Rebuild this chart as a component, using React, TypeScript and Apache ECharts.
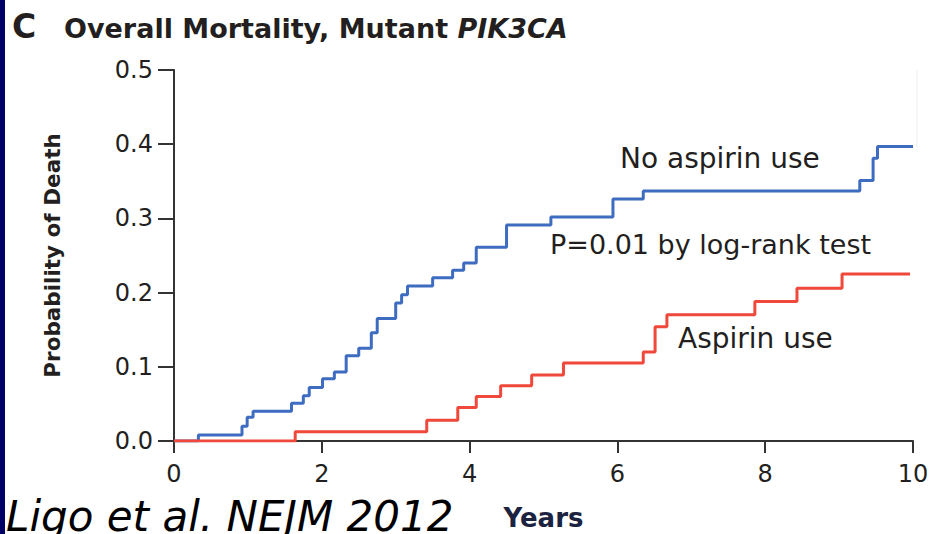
import React, { useEffect, useRef } from "react";
import * as echarts from "echarts";

const xTicks = [0, 2, 4, 6, 8, 10];
const yTicks = [0, 0.1, 0.2, 0.3, 0.4, 0.5];

// Kaplan-Meier steps: [time (years), cumulative probability of death after the event]
const noAspirin: [number, number][] = [
  [0, 0], [0.33, 0.008], [0.92, 0.02], [0.99, 0.032], [1.07, 0.04], [1.59, 0.051],
  [1.75, 0.061], [1.83, 0.072], [2.01, 0.084], [2.17, 0.093], [2.33, 0.115],
  [2.5, 0.125], [2.67, 0.146], [2.75, 0.165], [3.0, 0.186], [3.08, 0.197],
  [3.16, 0.209], [3.5, 0.22], [3.77, 0.23], [3.92, 0.24], [4.09, 0.261],
  [4.5, 0.291], [5.1, 0.302], [5.94, 0.326], [6.35, 0.337], [9.28, 0.351],
  [9.46, 0.381], [9.52, 0.397], [10.0, 0.397],
];
const aspirin: [number, number][] = [
  [0, 0], [1.64, 0.0126], [3.42, 0.028], [3.84, 0.045], [4.09, 0.06],
  [4.42, 0.0745], [4.84, 0.089], [5.27, 0.105], [6.35, 0.12], [6.51, 0.154],
  [6.67, 0.17], [7.86, 0.188], [8.43, 0.206], [9.04, 0.225], [9.96, 0.225],
];

const FONT = "'DejaVu Sans', 'Open Sans', sans-serif";
const TXT = "#231f20";

export default function App() {
  const ref = useRef<HTMLDivElement>(null);
  useEffect(() => {
    if (!ref.current) return;
    const chart = echarts.init(ref.current, undefined, { renderer: "svg" });
    chart.setOption({
      animation: false,
      backgroundColor: "#ffffff",
      grid: { left: 174, right: 21, top: 70, bottom: 93, containLabel: false, outerBoundsMode: "none" },
      xAxis: {
        type: "value",
        min: 0,
        max: 10,
        interval: 2,
        name: "Years",
        nameLocation: "middle",
        nameGap: 64,
        nameTextStyle: { fontFamily: FONT, fontSize: 26, fontWeight: "bold", color: "#1c2340" },
        axisLine: { show: true, lineStyle: { color: "#333", width: 2 } },
        axisTick: { show: true, inside: false, length: 12, lineStyle: { color: "#333", width: 2 } },
        axisLabel: {
          margin: 21,
          fontFamily: FONT,
          fontSize: 24,
          color: TXT,
          formatter: (v: number) => (xTicks.includes(v) ? String(v) : ""),
        },
        splitLine: { show: false },
      },
      yAxis: {
        type: "value",
        min: 0,
        max: 0.5,
        interval: 0.1,
        name: "Probability of Death",
        nameLocation: "middle",
        nameGap: 111,
        nameRotate: 90,
        nameTextStyle: { fontFamily: FONT, fontSize: 21.5, fontWeight: "bold", color: TXT },
        axisLine: { show: true, lineStyle: { color: "#333", width: 2 } },
        axisTick: { show: true, inside: false, length: 16, lineStyle: { color: "#333", width: 2 } },
        axisLabel: {
          margin: 21,
          fontFamily: FONT,
          fontSize: 24,
          color: TXT,
          formatter: (v: number) => {
            const t = yTicks.find((y) => Math.abs(y - v) < 1e-9);
            return t === undefined ? "" : t.toFixed(1);
          },
        },
        splitLine: { show: false },
      },
      series: [
        {
          name: "No aspirin use",
          type: "line",
          step: "end",
          data: noAspirin,
          symbol: "none",
          lineStyle: { color: "#3d6cc0", width: 3 },
          z: 3,
        },
        {
          name: "Aspirin use",
          type: "line",
          step: "end",
          data: aspirin,
          symbol: "none",
          lineStyle: { color: "#f0483a", width: 3 },
          z: 4,
        },
      ],
      graphic: [
        { type: "rect", shape: { x: 0, y: 0, width: 5, height: 534 }, style: { fill: "#000066" }, z: 100 },
        { type: "line", shape: { x1: 917, y1: 70, x2: 917, y2: 147 }, style: { stroke: "#eeeeee", lineWidth: 1 } },
        {
          type: "text", x: 12, y: 26,
          style: { text: "C", font: `bold 33px ${FONT}`, fill: TXT, textAlign: "left", textVerticalAlign: "middle" },
        },
        {
          type: "text", x: 64, y: 28,
          style: {
            text: "Overall Mortality, Mutant {i|PIK3CA}",
            font: `bold 27px ${FONT}`,
            fill: TXT,
            textAlign: "left",
            textVerticalAlign: "middle",
            rich: { i: { fontFamily: FONT, fontSize: 27, fontWeight: "bold", fontStyle: "italic", fill: TXT } },
          },
        },
        {
          type: "text", x: 620, y: 158,
          style: { text: "No aspirin use", font: `28px ${FONT}`, fill: TXT, textAlign: "left", textVerticalAlign: "middle" },
        },
        {
          type: "text", x: 550, y: 244,
          style: { text: "P=0.01 by log-rank test", font: `27px ${FONT}`, fill: TXT, textAlign: "left", textVerticalAlign: "middle" },
        },
        {
          type: "text", x: 678, y: 338,
          style: { text: "Aspirin use", font: `28px ${FONT}`, fill: TXT, textAlign: "left", textVerticalAlign: "middle" },
        },
        {
          type: "text", x: 6, y: 516,
          style: { text: "Ligo et al. NEJM 2012", font: `italic 42px 'DejaVu Sans', sans-serif`, fill: "#000000", textAlign: "left", textVerticalAlign: "middle" },
        },
      ],
    });
    return () => chart.dispose();
  }, []);
  return (
    <div
      ref={ref}
      style={{ position: "absolute", left: 0, top: 0, width: 934, height: 534, background: "#fff" }}
    />
  );
}
